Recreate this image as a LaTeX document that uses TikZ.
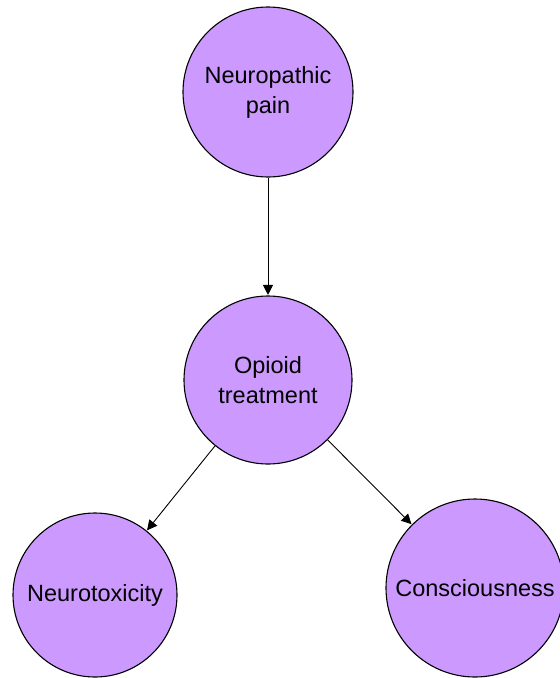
\documentclass[tikz,border=0pt]{standalone}
\usepackage{fontspec}
\setmainfont{Liberation Sans}
\usetikzlibrary{arrows.meta}
\definecolor{nodefill}{HTML}{CC99FF}
\begin{document}
\begin{tikzpicture}[x=1pt,y=-1pt,
  state/.style={circle, draw=black, line width=1.1pt, fill=nodefill,
    inner sep=0pt, align=center, font=\fontsize{23.5}{30}\selectfont},
  link/.style={draw=black, line width=0.9pt,
    -{Triangle[length=10pt,width=10pt]}, shorten >=0.5pt}]
  \useasboundingbox (0,0) rectangle (560,678);
  \clip (0,0) rectangle (560,678);
  \fill[white] (0,0) rectangle (560,678);

  \node[state, minimum size=170pt] (np) at (268,92) {Neuropathic\\pain};
  \node[state, minimum size=168pt] (op) at (268,380) {Opioid\\treatment};
  \node[state, minimum size=164pt] (nt) at (95,595) {Neurotoxicity};
  \node[state, minimum size=178pt] (cs) at (475,588) {Consciousness};

  \draw[link] (np) -- (op);
  \draw[link] (op) -- (nt);
  \draw[link] (op) -- (cs);
\end{tikzpicture}
\end{document}
